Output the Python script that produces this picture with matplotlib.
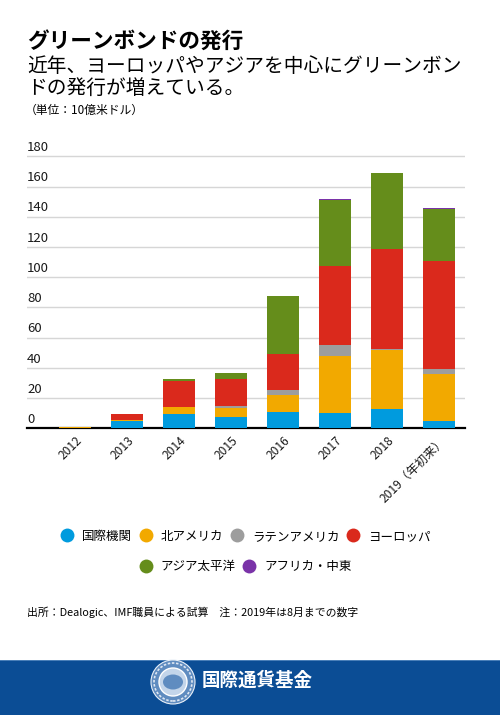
import matplotlib
matplotlib.use("Agg")
import matplotlib.pyplot as plt
from matplotlib.lines import Line2D
from matplotlib.patches import Rectangle, Ellipse
import numpy as np

plt.rcParams['font.family'] = ['Noto Sans CJK JP', 'DejaVu Sans']

years = ["2012", "2013", "2014", "2015", "2016", "2017", "2018", "2019（年初来）"]
series_names = ["国際機関", "北アメリカ", "ラテンアメリカ", "ヨーロッパ", "アジア太平洋", "アフリカ・中東"]
intl = [0.0, 5.0, 9.5, 7.7, 10.6, 9.9, 12.6, 5.0]
north_america = [1.0, 0.7, 4.8, 6.0, 11.2, 37.9, 39.0, 30.7]
latin_america = [0.0, 0.0, 0.0, 1.1, 3.8, 7.3, 0.7, 3.3]
europe = [0.0, 3.6, 17.2, 17.8, 23.4, 52.3, 66.4, 71.9]
asia_pacific = [0.0, 0.0, 1.3, 3.8, 38.6, 43.9, 50.1, 34.2]
africa_me = [0.0, 0.0, 0.0, 0.0, 0.0, 0.6, 0.0, 0.7]
yticks = [0, 20, 40, 60, 80, 100, 120, 140, 160, 180]

colors = ["#009bde", "#f2a900", "#9d9d9d", "#da291c", "#658d1b", "#7a33a8"]
data = [intl, north_america, latin_america, europe, asia_pacific, africa_me]

fig = plt.figure(figsize=(5.0, 7.15), dpi=100)

ax = fig.add_axes([0.054, 0.401, 0.876, 0.3846])
x = np.arange(len(years))
bottom = np.zeros(len(years))
for vals, c in zip(data, colors):
    ax.bar(x, vals, bottom=bottom, width=0.615, color=c, edgecolor='none', zorder=3)
    bottom += np.array(vals)

ax.set_xlim(-0.923, 7.5)
ax.set_ylim(0, 182)
ax.set_yticks(yticks)
ax.yaxis.grid(True, color='#d6d6d6', linewidth=1.0, zorder=0)
ax.set_axisbelow(True)
ax.tick_params(axis='y', length=0, labelleft=False)
for t in yticks:
    ax.text(0.0, t + 1.5, str(t), transform=ax.get_yaxis_transform(),
            ha='left', va='bottom', fontsize=9.5, color='#1a1a1a')
for s in ['top', 'right', 'left']:
    ax.spines[s].set_visible(False)
ax.spines['bottom'].set_linewidth(1.6)
ax.spines['bottom'].set_color('black')
ax.spines['bottom'].set_zorder(2)
ax.set_xticks(x)
ax.set_xticklabels(years, rotation=45, ha='right', rotation_mode='anchor',
                   fontsize=8.7, color='#1a1a1a')
ax.tick_params(axis='x', length=0, pad=4)

# titles
fig.text(0.054, 0.9427, "グリーンボンドの発行", fontsize=15.6, fontweight='bold',
         ha='left', va='center', color='black')
fig.text(0.054, 0.9068, "近年、ヨーロッパやアジアを中心にグリーンボン", fontsize=14.2,
         ha='left', va='center', color='black')
fig.text(0.054, 0.877, "ドの発行が増えている。", fontsize=14.2,
         ha='left', va='center', color='black')
fig.text(0.050, 0.846, "（単位：10億米ドル）", fontsize=8.5,
         ha='left', va='center', color='black')

# legends
handles = [Line2D([], [], marker='o', linestyle='none', markersize=10,
                  markerfacecolor=c, markeredgecolor='none') for c in colors]
leg1 = fig.legend(handles[:4], series_names[:4], loc='center', bbox_to_anchor=(0.49, 0.250),
                  ncol=4, frameon=False, fontsize=9, handlelength=1.2,
                  handletextpad=0.6, columnspacing=0.5)
leg2 = fig.legend(handles[4:], series_names[4:], loc='center', bbox_to_anchor=(0.49, 0.2075),
                  ncol=2, frameon=False, fontsize=9, handlelength=1.2,
                  handletextpad=0.6, columnspacing=0.5)

# footer note
fig.text(0.054, 0.144, "出所：Dealogic、IMF職員による試算　注：2019年は8月までの数字",
         fontsize=7.8, ha='left', va='center', color='black')

# banner
fig.patches.append(Rectangle((0, 0), 1, 55 / 715, transform=fig.transFigure,
                             facecolor='#0b4d95', edgecolor='none', zorder=1))
fig.patches.append(Rectangle((0, 55 / 715 - 0.002), 1, 0.002, transform=fig.transFigure,
                             facecolor='#4a7fb8', edgecolor='none', zorder=2))
cx, cy = 173 / 500, (715 - 682) / 715
fig.patches.append(Ellipse((cx, cy), 44 / 500, 44 / 715, transform=fig.transFigure,
                           facecolor='#5f8cc0', edgecolor='#e8eff7', linewidth=0.8, zorder=3))
fig.patches.append(Ellipse((cx, cy), 38 / 500, 38 / 715, transform=fig.transFigure,
                           facecolor='none', edgecolor='#dfe8f3', linewidth=1.2,
                           linestyle=(0, (1.5, 1)), zorder=4))
fig.patches.append(Ellipse((cx, cy), 28 / 500, 28 / 715, transform=fig.transFigure,
                           facecolor='#c3d5ea', edgecolor='white', linewidth=1.0, zorder=5))
fig.patches.append(Ellipse((cx, cy), 20 / 500, 15 / 715, transform=fig.transFigure,
                           facecolor='#5f8cc0', edgecolor='none', zorder=6))
fig.text(202 / 500, 0.049, "国際通貨基金", fontsize=13.3, fontweight='bold',
         ha='left', va='center', color='white')

fig.savefig("out.png", dpi=100)
